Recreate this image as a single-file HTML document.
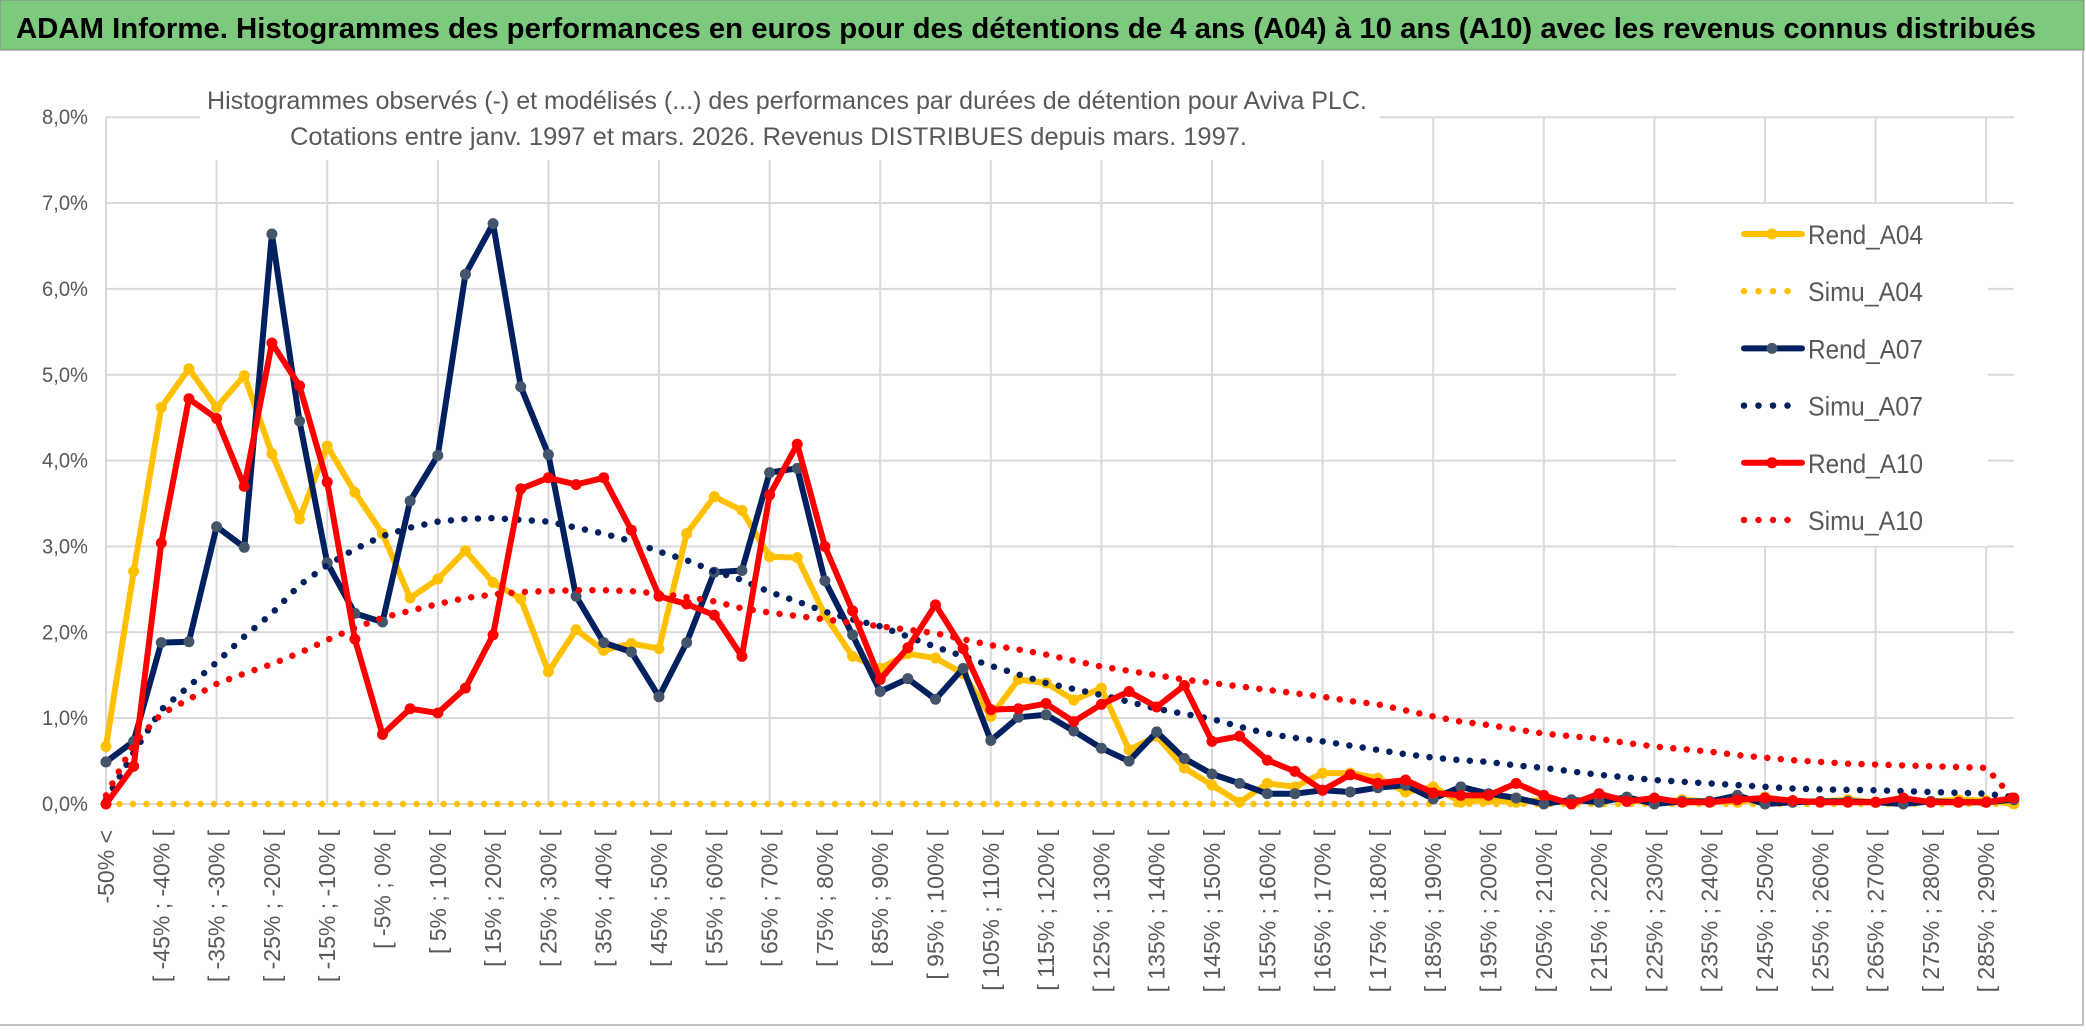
<!DOCTYPE html>
<html><head><meta charset="utf-8">
<style>
html,body{margin:0;padding:0;background:#fff;}
svg{display:block;font-family:"Liberation Sans",sans-serif;}
</style></head>
<body>
<svg id="chart" width="2086" height="1031" viewBox="0 0 2086 1031" xmlns="http://www.w3.org/2000/svg">
  <rect x="0" y="0" width="2086" height="1031" fill="#fff"/>
  <rect x="0" y="0" width="2084" height="50" fill="#7dc97d" stroke="#8a8a8a" stroke-width="1"/>
  <text x="16" y="38" font-size="29" font-weight="bold" fill="#000" textLength="2020" lengthAdjust="spacingAndGlyphs">ADAM Informe. Histogrammes des performances en euros pour des détentions de 4 ans (A04) à 10 ans (A10) avec les revenus connus distribués</text>
  <line x1="2083" y1="50" x2="2083" y2="1026" stroke="#bfbfbf" stroke-width="2"/>
  <line x1="0" y1="1025" x2="2084" y2="1025" stroke="#bfbfbf" stroke-width="2"/>
  <g id="grid"></g>
  <g id="yaxis"></g>
  <g id="xaxis"></g>
  <rect x="200" y="80" width="1180" height="80" fill="#fff"/>
  <text x="207" y="109" font-size="25" fill="#595959" textLength="1160" lengthAdjust="spacingAndGlyphs">Histogrammes observés (-) et modélisés (...) des performances par durées de détention pour Aviva PLC.</text>
  <text x="290" y="145" font-size="25" fill="#595959" textLength="957" lengthAdjust="spacingAndGlyphs">Cotations entre janv. 1997 et mars. 2026. Revenus DISTRIBUES depuis mars. 1997.</text>
  <g id="series"></g>
  <rect x="1676" y="204" width="312" height="342" fill="#fff"/>
  <g id="legend"></g>
</svg>
<script>
const categories = ["-50% <"];
for (let k = 1; k < 70; k++) { const a = -50 + 5 * (k - 1); categories.push("[ " + a + "% ; " + (a + 5) + "% ["); }
const yTicks = [0, 1, 2, 3, 4, 5, 6, 7, 8];
const yTickLabels = ["0,0%", "1,0%", "2,0%", "3,0%", "4,0%", "5,0%", "6,0%", "7,0%", "8,0%"];
const rendA04 = [0.67,2.71,4.62,5.07,4.62,4.99,4.08,3.32,4.17,3.63,3.15,2.40,2.62,2.95,2.58,2.39,1.54,2.03,1.79,1.87,1.81,3.15,3.58,3.42,2.88,2.87,2.2,1.72,1.58,1.75,1.70,1.52,1.02,1.45,1.41,1.21,1.35,0.63,0.79,0.42,0.22,0.02,0.24,0.20,0.36,0.36,0.30,0.14,0.20,0.02,0.05,0.02,0.05,0.0,0.1,0.05,0.02,0.05,0.03,0.02,0.08,0.02,0.03,0.05,0.02,0.05,0.03,0.05,0.04,0.0];
const simuA04 = new Array(70).fill(0);
const rendA07 = [0.49,0.73,1.88,1.89,3.23,2.99,6.64,4.46,2.81,2.22,2.12,3.53,4.06,6.17,6.76,4.86,4.07,2.42,1.88,1.77,1.25,1.88,2.70,2.72,3.86,3.91,2.60,1.97,1.31,1.46,1.22,1.58,0.74,1.01,1.04,0.85,0.65,0.50,0.84,0.53,0.35,0.24,0.12,0.12,0.16,0.14,0.19,0.22,0.06,0.2,0.12,0.07,0.0,0.05,0.02,0.08,0.0,0.03,0.03,0.1,0.0,0.02,0.03,0.03,0.02,0.0,0.03,0.02,0.02,0.05];
const simuA07 = [0.05,0.6,1.1,1.37,1.65,1.95,2.22,2.55,2.78,2.97,3.12,3.22,3.29,3.32,3.33,3.31,3.29,3.22,3.15,3.06,2.94,2.84,2.71,2.61,2.47,2.36,2.24,2.15,2.07,1.95,1.83,1.72,1.61,1.51,1.41,1.34,1.27,1.19,1.11,1.05,0.99,0.90,0.82,0.77,0.73,0.68,0.63,0.58,0.54,0.51,0.49,0.45,0.42,0.38,0.34,0.31,0.28,0.26,0.24,0.22,0.20,0.18,0.17,0.165,0.16,0.15,0.14,0.13,0.12,0.08];
const rendA10 = [0.0,0.44,3.04,4.72,4.49,3.70,5.37,4.87,3.75,1.92,0.81,1.11,1.06,1.35,1.97,3.67,3.80,3.72,3.80,3.19,2.42,2.33,2.20,1.72,3.60,4.19,3.00,2.25,1.45,1.82,2.32,1.81,1.10,1.11,1.17,0.96,1.16,1.31,1.13,1.38,0.73,0.79,0.51,0.38,0.16,0.34,0.24,0.28,0.13,0.10,0.10,0.24,0.10,0.0,0.12,0.03,0.07,0.02,0.02,0.05,0.07,0.04,0.02,0.02,0.02,0.07,0.02,0.02,0.02,0.07];
const simuA10 = [0.1,0.7,1.05,1.22,1.40,1.52,1.63,1.76,1.91,2.05,2.17,2.25,2.33,2.40,2.44,2.47,2.48,2.49,2.49,2.48,2.45,2.41,2.36,2.28,2.23,2.19,2.15,2.11,2.07,2.03,1.99,1.92,1.85,1.80,1.74,1.67,1.60,1.55,1.50,1.45,1.41,1.37,1.33,1.29,1.25,1.20,1.16,1.09,1.02,0.96,0.92,0.87,0.82,0.79,0.76,0.71,0.67,0.64,0.61,0.57,0.54,0.51,0.49,0.47,0.46,0.45,0.44,0.43,0.42,0.06];
const seriesNames = ["Rend_A04","Simu_A04","Rend_A07","Simu_A07","Rend_A10","Simu_A10"];

const NS = "http://www.w3.org/2000/svg";
const X0 = 106, STEP = 27.65, Y0 = 804, PER = 85.85;
function xScale(i) { return X0 + STEP * i; }
function yScale(v) { return Y0 - PER * v; }
function mk(tag, attrs, parent) { const e = document.createElementNS(NS, tag); for (const k in attrs) e.setAttribute(k, attrs[k]); parent.appendChild(e); return e; }

const grid = document.getElementById("grid");
const xRight = xScale(categories.length - 1);
yTicks.forEach((t, k) => {
  const l = mk("line", {x1: X0, x2: xRight, y1: yScale(t), y2: yScale(t), stroke: "#d9d9d9", "stroke-width": 2}, grid);
  
  
});
for (let i = 0; i < categories.length; i += 4) {
  const l = mk("line", {x1: xScale(i), x2: xScale(i), y1: yScale(8), y2: Y0, stroke: "#d9d9d9", "stroke-width": 2}, grid);
  
  
}
const yaxis = document.getElementById("yaxis");
yTicks.forEach((t, k) => {
  const tx = mk("text", {x: 88, y: yScale(t) + 7, "font-size": 21, fill: "#595959", "text-anchor": "end", textLength: 46, lengthAdjust: "spacingAndGlyphs"}, yaxis);
  tx.textContent = yTickLabels[k];
  
  
});
const xaxis = document.getElementById("xaxis");
for (let i = 0; i < categories.length; i += 2) {
  const x = xScale(i) + 8, y = 830;
  const tx = mk("text", {x: x, y: y, "font-size": 23, fill: "#595959", "text-anchor": "end", transform: "rotate(-90 " + x + " " + y + ")"}, xaxis);
  tx.textContent = categories[i];
  
  
}

const seriesG = document.getElementById("series");
function pts(arr) { return arr.map((v, i) => xScale(i).toFixed(1) + "," + yScale(v).toFixed(1)).join(" "); }
function solid(arr, color, markerColor, name) {
  const g = mk("g", {}, seriesG);
  
  
  const p = mk("polyline", {points: pts(arr), fill: "none", stroke: color, "stroke-width": 6, "stroke-linejoin": "round", "stroke-linecap": "round"}, g);
  
  
  arr.forEach((v, i) => {
    const c = mk("circle", {cx: xScale(i), cy: yScale(v), r: 5.5, fill: markerColor}, g);
    
    
  });
}
function dotted(arr, color, name) {
  const p = mk("polyline", {points: pts(arr), fill: "none", stroke: color, "stroke-width": 6.5, "stroke-dasharray": "0 13.5", "stroke-linecap": "round", "stroke-linejoin": "round"}, seriesG);
  
  
}
solid(rendA04, "#ffc000", "#ffc000", "rend-a04-series");
dotted(simuA04, "#ffc000", "simu-a04-series");
solid(rendA07, "#002060", "#44546a", "rend-a07-series");
dotted(simuA07, "#002060", "simu-a07-series");
solid(rendA10, "#ff0000", "#ff0000", "rend-a10-series");
dotted(simuA10, "#ff0000", "simu-a10-series");

const legend = document.getElementById("legend");
const legColors = ["#ffc000","#ffc000","#002060","#002060","#ff0000","#ff0000"];
const legMarker = ["#ffc000",null,"#44546a",null,"#ff0000",null];
seriesNames.forEach((n, k) => {
  const y = 234 + 57.2 * k;
  const g = mk("g", {}, legend);
  
  
  if (k % 2 === 0) {
    mk("line", {x1: 1744, x2: 1802, y1: y, y2: y, stroke: legColors[k], "stroke-width": 6, "stroke-linecap": "round"}, g);
    mk("circle", {cx: 1772, cy: y, r: 5.5, fill: legMarker[k]}, g);
  } else {
    const end = k === 5 ? 1800 : 1790;
    mk("line", {x1: 1744, x2: end, y1: y, y2: y, stroke: legColors[k], "stroke-width": 6.5, "stroke-dasharray": "0 14.5", "stroke-linecap": "round"}, g);
  }
  const t = mk("text", {x: 1808, y: y + 10, "font-size": 27, fill: "#595959", textLength: 115, lengthAdjust: "spacingAndGlyphs"}, g);
  t.textContent = n;
  
  
});
</script>
</body></html>
